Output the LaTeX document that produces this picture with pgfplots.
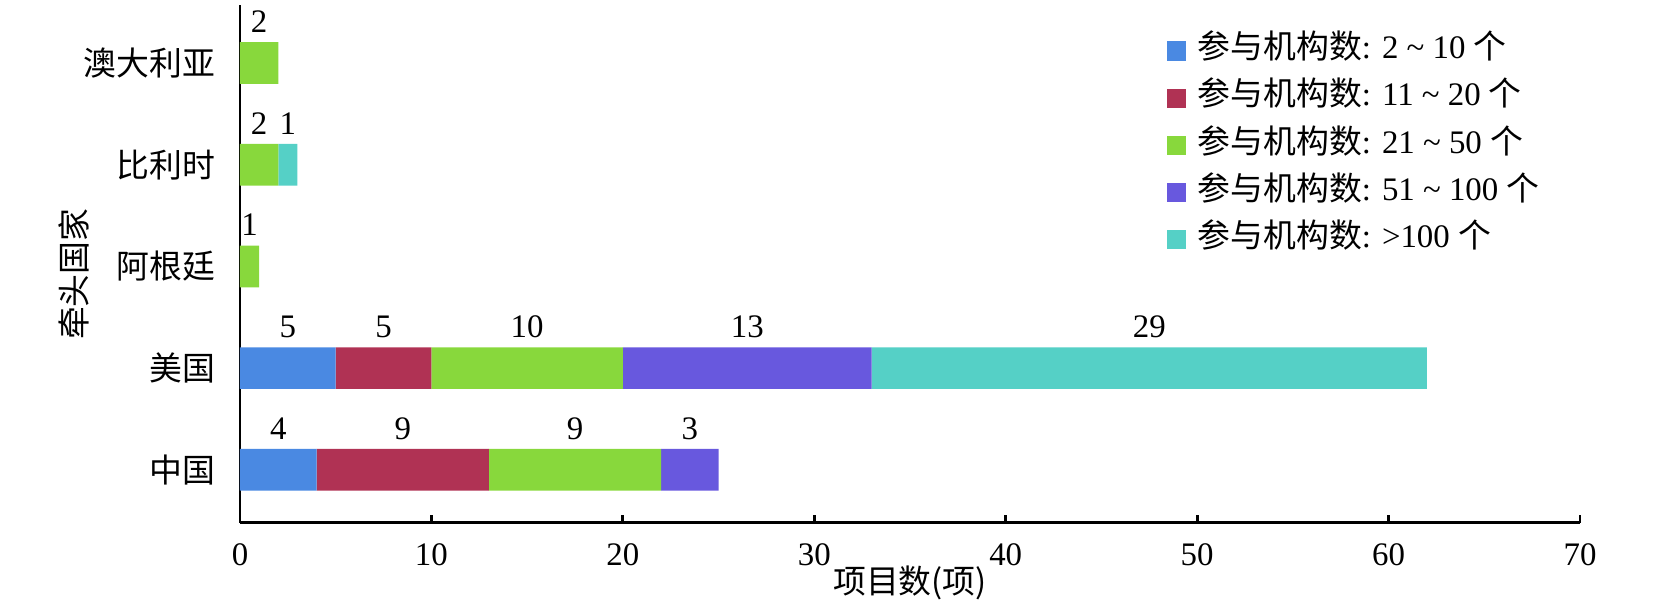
\documentclass[border=0pt]{standalone}
\usepackage{fontspec}
\setmainfont{Liberation Serif}
\newfontfamily\cjk{Noto Sans CJK SC}
\usepackage{pgfplots}
\usepackage{pgfplotstable}
\pgfplotsset{compat=1.18}
\definecolor{c1}{RGB}{74,137,226}
\definecolor{c2}{RGB}{176,50,84}
\definecolor{c3}{RGB}{136,216,60}
\definecolor{c4}{RGB}{104,88,222}
\definecolor{c5}{RGB}{85,208,198}

\pgfplotstableread{
cat b1 b2 b3 b4 b5
0 4 9 9 3 0
1 5 5 10 13 29
2 0 0 1 0 0
3 0 0 2 0 1
4 0 0 2 0 0
}\bars

\pgfplotstableread{
x y lab
2 0 4
8.5 0 9
17.5 0 9
23.5 0 3
2.5 1 5
7.5 1 5
15 1 10
26.5 1 13
47.5 1 29
0.5 2 1
1 3 2
2.5 3 1
1 4 2
}\labs

\begin{document}
\begin{tikzpicture}[font=\fontsize{11.5}{13.8}\selectfont]
\begin{axis}[
  name=main,
  scale only axis, width=469pt, height=181.2pt,
  xmin=0, xmax=70, ymin=-0.52, ymax=4.57,
  xbar stacked, bar width=0.41,
  axis lines*=left,
  axis line style={line width=1pt, black},
  /pgf/number format/assume math mode=true,
  xtick={0,10,...,70}, tick align=inside, major tick length=2.8pt,
  xtick style={line width=1pt, black},
  ytick={0,1,2,3,4},
  yticklabels={{\cjk 中国},{\cjk 美国},{\cjk 阿根廷},{\cjk 比利时},{\cjk 澳大利亚}},
  ytick style={draw=none},
  xticklabel style={inner sep=0pt, anchor=north, yshift=-7pt},
  yticklabel style={inner sep=0pt, anchor=east, xshift=-8.4pt},
  xlabel={\cjk 项目数(项)},
  ylabel={\cjk 牵头国家},
  xlabel style={at={(axis description cs:0.5,-0.1159)}, anchor=center},
  ylabel style={at={(axis description cs:-0.1237,0.48)}, anchor=center},
  legend cell align=left,
  legend image code/.code={\fill[#1] (0pt,-3.35pt) rectangle (6.7pt,3.35pt); \path (10.9pt,0pt);},
  legend style={at={(axis description cs:0.691,0.944)}, anchor=north west, draw=none, fill=none,
    inner sep=0pt, row sep=5pt, nodes={inner sep=0pt, text height=8.5pt, text depth=3pt}},
]
\addplot[fill=c1, draw=none] table[x=b1, y=cat] {\bars};
\addlegendentry{{\cjk 参与机构数}: 2 \textasciitilde{} 10 {\cjk 个}}
\addplot[fill=c2, draw=none] table[x=b2, y=cat] {\bars};
\addlegendentry{{\cjk 参与机构数}: 11 \textasciitilde{} 20 {\cjk 个}}
\addplot[fill=c3, draw=none] table[x=b3, y=cat] {\bars};
\addlegendentry{{\cjk 参与机构数}: 21 \textasciitilde{} 50 {\cjk 个}}
\addplot[fill=c4, draw=none] table[x=b4, y=cat] {\bars};
\addlegendentry{{\cjk 参与机构数}: 51 \textasciitilde{} 100 {\cjk 个}}
\addplot[fill=c5, draw=none] table[x=b5, y=cat] {\bars};
\addlegendentry{{\cjk 参与机构数}: >100 {\cjk 个}}
\end{axis}
\begin{axis}[
  scale only axis, width=469pt, height=181.2pt,
  xmin=0, xmax=70, ymin=-0.52, ymax=4.57,
  hide axis,
]
\addplot[only marks, mark=none, nodes near coords, point meta=explicit symbolic,
  nodes near coords style={anchor=south, inner sep=0pt, yshift=3.15pt, font=\fontsize{11.5}{13.8}\selectfont}]
  table[x=x, y expr=\thisrow{y}+0.205, meta=lab] {\labs};
\end{axis}
\path (main.south west) ++(-84pt,-31.2pt);
\path (main.north east) ++(25.9pt,1.75pt);
\end{tikzpicture}
\end{document}
